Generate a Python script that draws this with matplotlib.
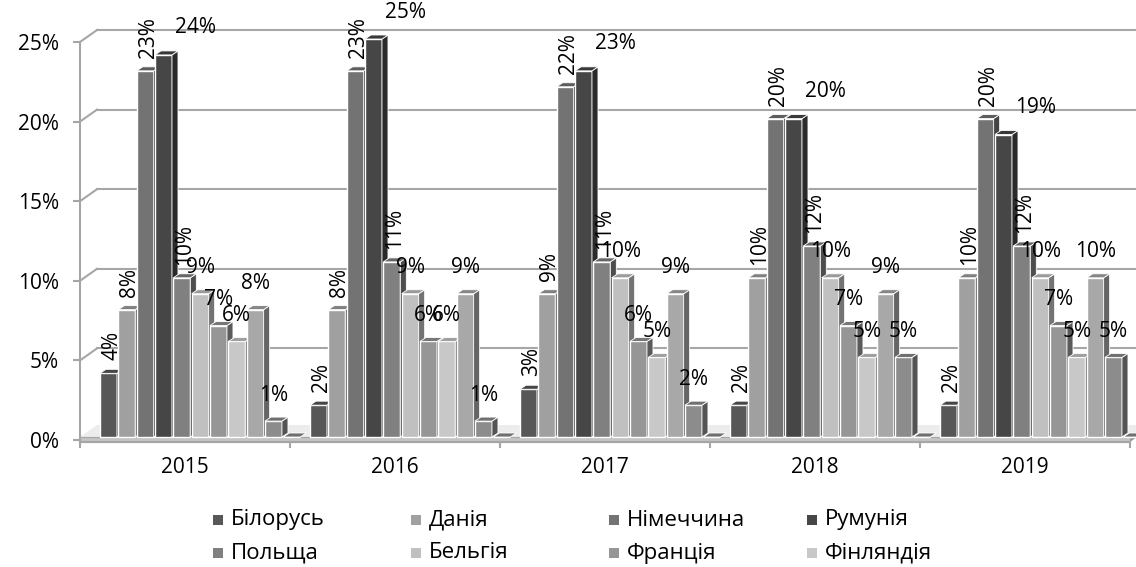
import matplotlib
matplotlib.use("Agg")
import matplotlib.pyplot as plt
from matplotlib.patches import Polygon, Rectangle
from matplotlib.colors import to_rgb

plt.rcParams["font.family"] = ["Open Sans", "DejaVu Sans"]

# data (%), per series, one value per year
years = ["2015", "2016", "2017", "2018", "2019"]
countries = ["Білорусь", "Данія", "Німеччина", "Румунія",
             "Польща", "Бельгія", "Франція", "Фінляндія"]
belarus = [4, 2, 3, 2, 2]
denmark = [8, 8, 9, 10, 10]
germany = [23, 23, 22, 20, 20]
romania = [24, 25, 23, 20, 19]
poland = [10, 11, 11, 12, 12]
belgium = [9, 9, 10, 10, 10]
france = [7, 6, 6, 7, 7]
finland = [6, 6, 5, 5, 5]
# three more series are drawn but have no legend entry
extra_1 = [8, 9, 9, 9, 10]
extra_2 = [1, 1, 2, 5, 5]
extra_3 = [0, 0, 0, 0, 0]

series = [belarus, denmark, germany, romania, poland, belgium,
          france, finland, extra_1, extra_2, extra_3]
colors = ["#575757", "#a0a0a0", "#737373", "#464646", "#808080", "#c0c0c0",
          "#969696", "#c8c8c8", "#a8a8a8", "#8c8c8c", "#8c8c8c"]
rotated = {0, 1, 2, 4}   # labels written vertically
FS = 15

# pixel -> data helpers (group = 210 px, 1% = 15.92 px)
PX = 1 / 210
PY = 25 / 398

BAR_X0 = 20 * PX      # first bar offset inside a group
BAR_STEP = 18.33 * PX
BAR_W = 17 * PX
BASE = 3 * PY         # bars sit a little behind the front plane
DX, DY = 6 * PX, 4 * PY        # bar depth
WDX, WDY = 17 * PX, 12 * PY    # wall depth
GRID = "#a6a6a6"


def shade(c, f):
    r, g, b = to_rgb(c)
    return (r * f, g * f, b * f)


def draw_bar(ax, x, h, color, z):
    y0, y1 = BASE, BASE + h
    xr = x + BAR_W
    ax.add_patch(Rectangle((x, y0), BAR_W, h, fc=color, ec="white",
                           lw=1, zorder=z, clip_on=False))
    ax.add_patch(Polygon([(xr, y0), (xr + DX, y0 + DY), (xr + DX, y1 + DY), (xr, y1)],
                         fc=shade(color, 0.6), ec="white", lw=0.6,
                         zorder=z, clip_on=False))
    ax.add_patch(Polygon([(x, y1), (xr, y1), (xr + DX, y1 + DY), (x + DX, y1 + DY)],
                         fc=shade(color, 0.8), ec="white", lw=0.6,
                         zorder=z, clip_on=False))


fig = plt.figure(figsize=(11.36, 5.67), dpi=100)
ax = fig.add_axes([80 / 1136, 125 / 567, 1050 / 1136, 400 / 567])
ax.set_xlim(0, 5)
ax.set_ylim(-2 * PY, 25)

# back wall gridlines and left wall diagonals
for v in range(0, 30, 5):
    ax.plot([0, WDX], [v, v + WDY], color=GRID, lw=1.5, zorder=1, clip_on=False)
    if v > 0:
        ax.plot([WDX, 5 + 2 * WDX], [v + WDY, v + WDY], color=GRID, lw=1.5,
                zorder=1, clip_on=False)

# floor slab
ax.add_patch(Polygon([(0, BASE), (5, BASE), (5 + WDX, BASE + WDY), (WDX, BASE + WDY)],
                     fc="#ececec", ec="none", zorder=1.5, clip_on=False))
ax.add_patch(Rectangle((0, -2 * PY), 5, BASE + 2 * PY, fc="#c4c4c4", ec="#a6a6a6",
                       lw=0.8, zorder=2, clip_on=False))
ax.add_patch(Polygon([(5, -2 * PY), (5 + WDX * 0.5, -2 * PY + WDY * 0.5),
                      (5 + WDX * 0.5, BASE + WDY * 0.5), (5, BASE)],
                     fc="#9a9a9a", ec="none", zorder=2, clip_on=False))

# bars and labels
for g in range(len(years)):
    for i, vals in enumerate(series):
        x = g + BAR_X0 + i * BAR_STEP
        h = vals[g]
        draw_bar(ax, x, h, colors[i], 3 + g + i * 0.01)
        if h == 0:
            continue
        cx = x + BAR_W / 2
        if i in rotated:
            ax.text(cx + 3 * PX, BASE + h + 13 * PY, f"{h}%", rotation=90,
                    ha="center", va="bottom", fontsize=FS, zorder=20,
                    clip_on=False)
        elif i == 3:
            ax.text(cx + 32 * PX, BASE + h + 27 * PY, f"{h}%", ha="center",
                    va="center", fontsize=FS, zorder=20, clip_on=False)
        else:
            ax.text(cx, BASE + h + 26 * PY, f"{h}%", ha="center",
                    va="center", fontsize=FS, zorder=20, clip_on=False)

# axes styling
for side in ["top", "right"]:
    ax.spines[side].set_visible(False)
for side in ["left", "bottom"]:
    ax.spines[side].set_color(GRID)
    ax.spines[side].set_linewidth(1.5)
ax.spines["bottom"].set_zorder(2.5)
ax.set_yticks(range(0, 30, 5))
ax.set_yticklabels([f"{v}%" for v in range(0, 30, 5)])
ax.tick_params(axis="y", length=5, width=1.5, color=GRID, pad=10, labelsize=FS)
ax.set_xticks([g + 0.5 for g in range(len(years))])
ax.set_xticklabels(years)
ax.set_xticks(range(0, 6), minor=True)
ax.tick_params(axis="x", which="major", length=0, pad=11, labelsize=FS)
ax.tick_params(axis="x", which="minor", length=4.5, width=1.5, color=GRID)
ax.patch.set_visible(False)

# legend, 2 rows x 4 columns
for k, name in enumerate(countries):
    col, row = k % 4, k // 4
    lx = 213 + col * 198
    ly = 520 + row * 33
    fig.add_artist(Rectangle((lx / 1136, 1 - (ly + 5) / 567), 10 / 1136, 10 / 567,
                             fc=colors[k], ec="none", transform=fig.transFigure))
    fig.text((lx + 18) / 1136, 1 - ly / 567, name, ha="left", va="center",
             fontsize=16)

fig.savefig("out.png", dpi=100)
